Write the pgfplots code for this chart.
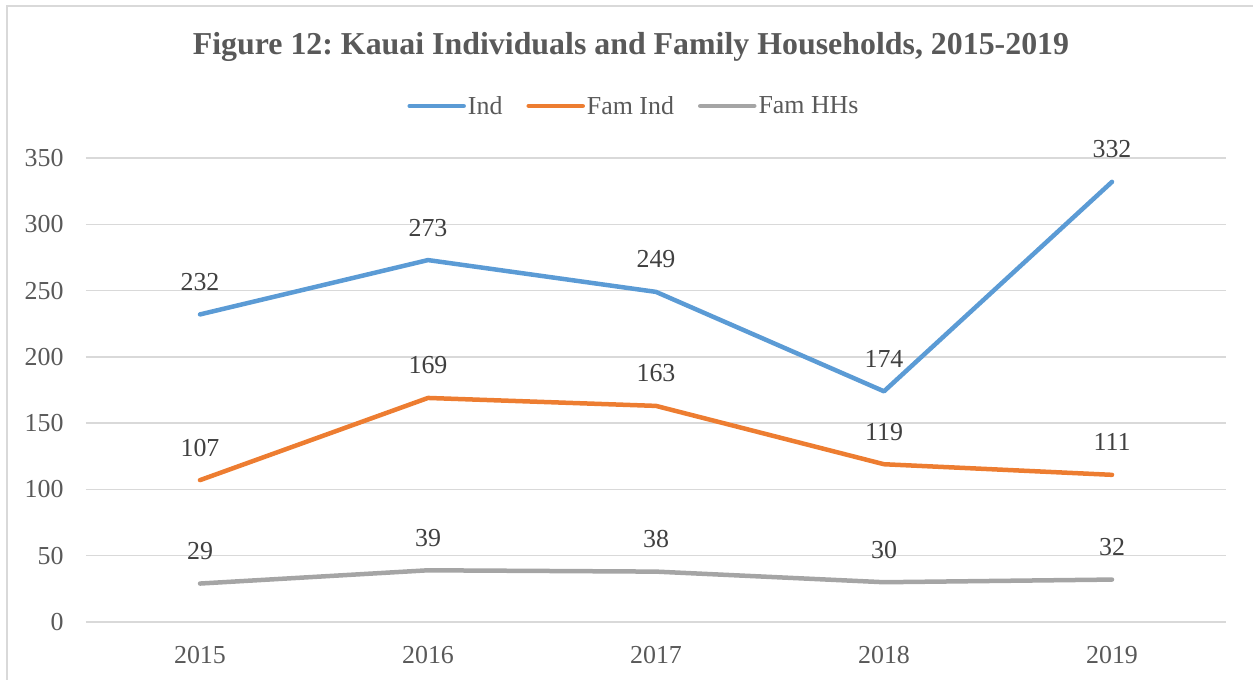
\documentclass[border=0pt]{standalone}
\usepackage{pgfplots}
\pgfplotsset{compat=1.18}
\usepackage{fontspec}
\setmainfont{Liberation Serif}
\definecolor{cblue}{HTML}{5B9BD5}
\definecolor{corange}{HTML}{ED7D31}
\definecolor{cgray}{HTML}{A5A5A5}
\definecolor{gridc}{HTML}{D9D9D9}
\definecolor{txt}{HTML}{595959}
\definecolor{lbl}{HTML}{404040}
\begin{document}
\frenchspacing
\begin{tikzpicture}[x=1bp,y=1bp]
\useasboundingbox (-86,-58) rectangle (1167,622);
\begin{scope}
\clip (-86,-58) rectangle (1167,622);
\draw[gridc, line width=2bp] (-79,-80) rectangle (1200,616);
\end{scope}
\begin{axis}[
  at={(0,0)}, anchor=south west,
  scale only axis, width=1140bp, height=464bp,
  xmin=-0.5, xmax=4.5, ymin=0, ymax=350,
  xtick={0,1,2,3,4}, xticklabels={2015,2016,2017,2018,2019},
  ytick={0,50,100,150,200,250,300,350},
  axis line style={draw=none},
  major tick length=0pt,
  xmajorgrids=false, ymajorgrids=true, grid style={draw=gridc, line width=1.5bp},
  tick label style={font=\fontsize{26}{30}\selectfont, text=txt},
  /pgf/number format/assume math mode=true,
  yticklabel style={xshift=-19bp},
  xticklabel style={yshift=-21bp},
  clip=false,
  legend style={at={(548/1140,516/464)}, anchor=center, draw=none, fill=none,
    font=\fontsize{26}{30}\selectfont, text=txt, legend columns=3,
    /tikz/every even column/.append style={column sep=22bp}},
  legend image code/.code={\draw[#1, line cap=round] (0bp,0bp) -- (54bp,0bp);},
  every axis plot/.append style={line width=4.5bp, line cap=round, line join=round, mark=none},
  nodes near coords,
  every node near coord/.append style={anchor=base, yshift=24bp, inner sep=0pt, font=\fontsize{26}{30}\selectfont, text=lbl},
]
\addplot[cblue] coordinates {(0,232) (1,273) (2,249) (3,174) (4,332)};
\addlegendentry{Ind}
\addplot[corange] coordinates {(0,107) (1,169) (2,163) (3,119) (4,111)};
\addlegendentry{Fam Ind}
\addplot[cgray] coordinates {(0,29) (1,39) (2,38) (3,30) (4,32)};
\addlegendentry{Fam HHs}
\end{axis}
\node[font=\fontsize{32}{38}\selectfont\bfseries, text=txt] at (545,575) {Figure 12: Kauai Individuals and Family Households, 2015-2019};
\end{tikzpicture}
\end{document}
